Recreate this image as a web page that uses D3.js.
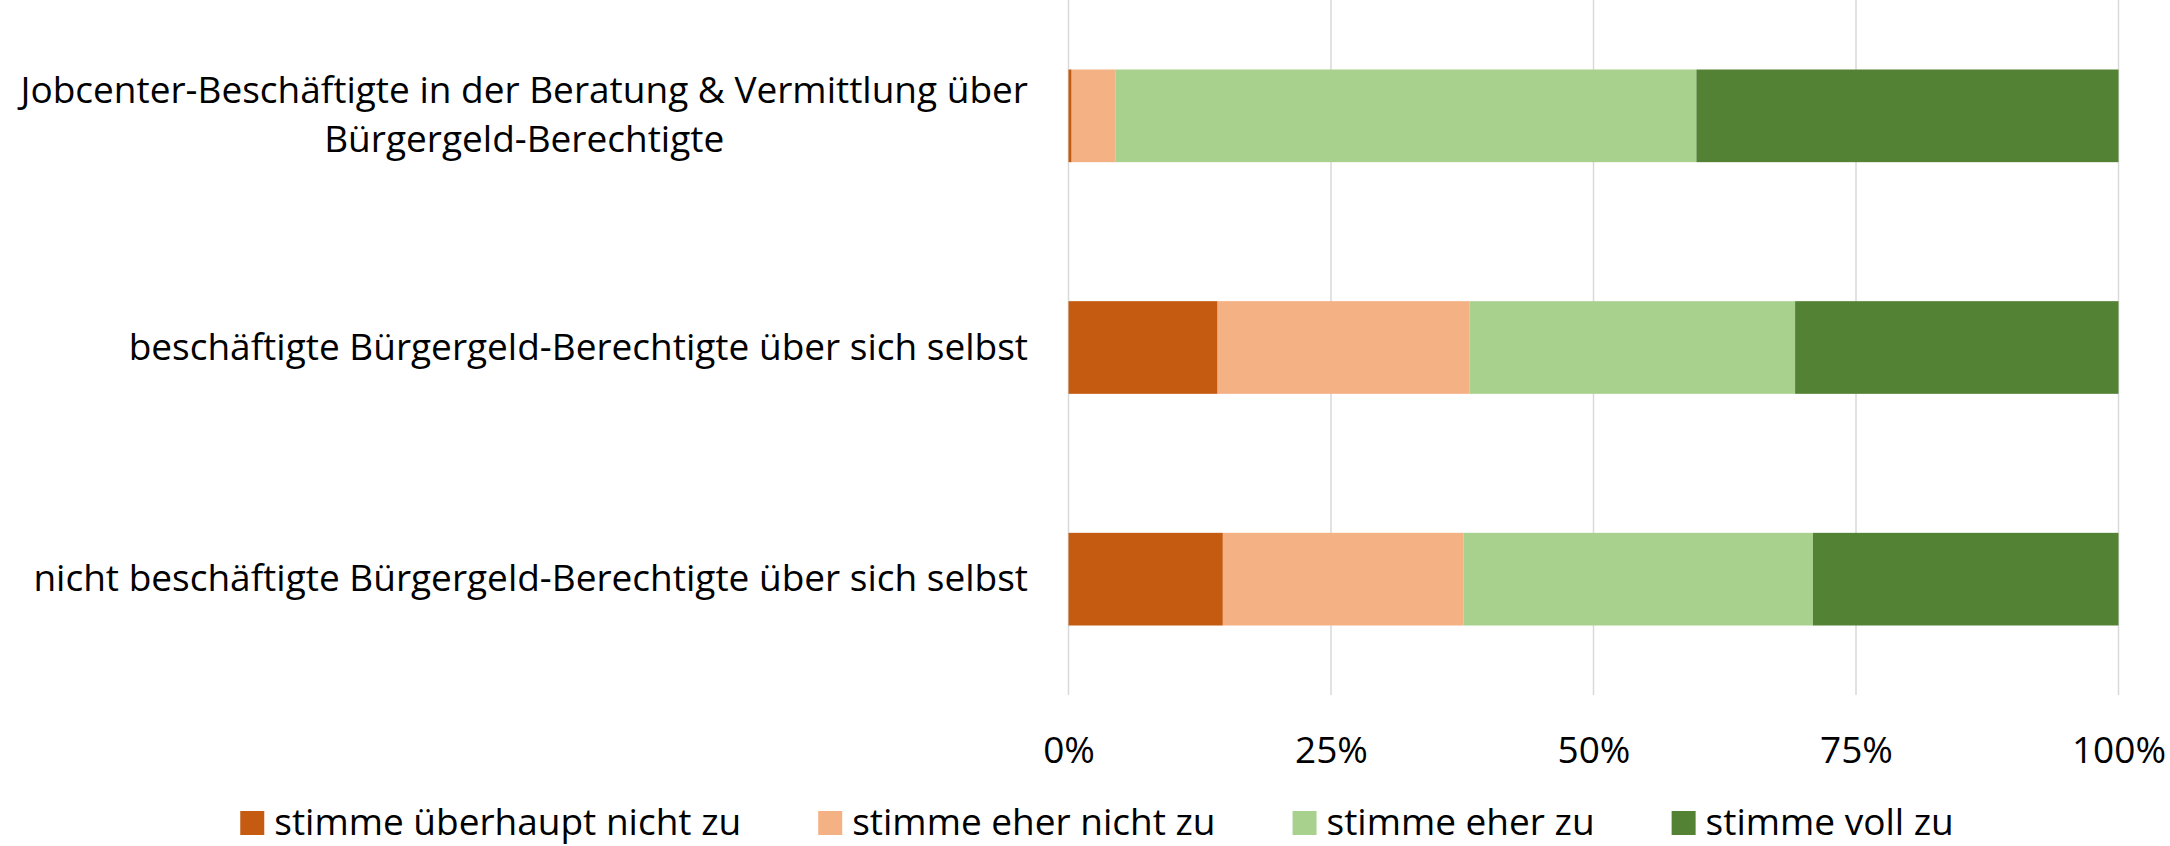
<!DOCTYPE html>
<html>
<head>
<meta charset="utf-8">
<script src="https://cdn.jsdelivr.net/npm/d3@7"></script>
<style>
  body { margin: 0; background: #fff; }
  svg text { font-family: "Open Sans", "Noto Sans", sans-serif; fill: #000; }
</style>
</head>
<body>
<svg id="chart" width="2170" height="846"></svg>
<script>
'use strict';

// categories, top to bottom (each entry = lines of the label)
var categories = [
  ["Jobcenter-Beschäftigte in der Beratung & Vermittlung über", "Bürgergeld-Berechtigte"],
  ["beschäftigte Bürgergeld-Berechtigte über sich selbst"],
  ["nicht beschäftigte Bürgergeld-Berechtigte über sich selbst"]
];
var seriesNames = ["stimme überhaupt nicht zu", "stimme eher nicht zu", "stimme eher zu", "stimme voll zu"];
var seriesColors = ["#C55A11", "#F4B183", "#A9D18E", "#548235"];

// shares in percent, one array per series (same order as categories)
var ueberhauptNicht = [0.3, 14.2, 14.7];
var eherNicht = [4.2, 24.0, 22.9];
var eherZu = [55.3, 31.0, 33.3];
var vollZu = [40.2, 30.8, 29.1];

var tickValues = [0, 25, 50, 75, 100];

var plotLeft = 1068.5, plotRight = 2118.5, plotTop = 0, plotBottom = 695;
var fontSize = 37;

var svg = d3.select("#chart");

var x = d3.scaleLinear().domain([0, 100]).range([plotLeft, plotRight]);
var y = d3.scaleBand()
          .domain(d3.range(categories.length))
          .range([plotTop, plotBottom])
          .paddingInner(0.6)
          .paddingOuter(0.3);

// gridlines
svg.append("g")
   .selectAll("line")
   .data(tickValues)
   .enter().append("line")
   .attr("x1", function(d) { return x(d); })
   .attr("x2", function(d) { return x(d); })
   .attr("y1", plotTop)
   .attr("y2", plotBottom)
   .style("stroke", "#d9d9d9")
   .style("stroke-width", 1.5);

// stack the series
var rows = categories.map(function(c, i) {
  return { idx: i, s0: ueberhauptNicht[i], s1: eherNicht[i], s2: eherZu[i], s3: vollZu[i] };
});
var stacked = d3.stack().keys(["s0", "s1", "s2", "s3"])(rows);

svg.append("g")
   .selectAll("g")
   .data(stacked)
   .enter().append("g")
   .style("fill", function(d, i) { return seriesColors[i]; })
   .selectAll("rect")
   .data(function(d) { return d; })
   .enter().append("rect")
   .attr("x", function(d) { return x(d[0]); })
   .attr("y", function(d) { return y(d.data.idx); })
   .attr("width", function(d) { return x(d[1]) - x(d[0]); })
   .attr("height", y.bandwidth());

// x axis tick labels
var xAxis = d3.axisBottom(x)
              .tickValues(tickValues)
              .tickSize(0)
              .tickPadding(0)
              .tickFormat(function(d) { return d + "%"; });

var axisG = svg.append("g")
               .attr("transform", "translate(0," + 763 + ")")
               .call(xAxis);
axisG.select(".domain").remove();
axisG.selectAll("text")
     .attr("dy", 0)
     .attr("y", 0)
     .style("font-size", fontSize + "px")
     .style("font-family", null);

// category labels: block right-aligned, lines centred inside the block
var labelRight = 1028;
var lineGap = 49;
categories.forEach(function(lines, i) {
  var cy = y(i) + y.bandwidth() / 2;
  var g = svg.append("g");
  var texts = g.selectAll("text")
               .data(lines)
               .enter().append("text")
               .attr("text-anchor", "middle")
               .style("font-size", fontSize + "px")
               .text(function(d) { return d; });
  var blockW = 0;
  texts.each(function() { blockW = Math.max(blockW, this.getComputedTextLength()); });
  var base = cy + 12 - (lines.length - 1) * lineGap / 2;
  texts.attr("x", labelRight - blockW / 2)
       .attr("y", function(d, j) { return base + j * lineGap; });
});

// legend
var legend = svg.append("g");
var items = legend.selectAll("g")
                  .data(seriesNames)
                  .enter().append("g");
items.append("rect")
     .attr("width", 24)
     .attr("height", 24)
     .attr("y", -24)
     .style("fill", function(d, i) { return seriesColors[i]; });
items.append("text")
     .attr("x", 34)
     .attr("y", 0)
     .style("font-size", fontSize + "px")
     .text(function(d) { return d; });

var pos = 0;
items.each(function() {
  d3.select(this).attr("transform", "translate(" + pos + ",0)");
  pos += this.getBBox().width + 77;
});
var legendW = pos - 77;
legend.attr("transform", "translate(" + (1097 - legendW / 2) + "," + 835 + ")");
</script>
</body>
</html>
